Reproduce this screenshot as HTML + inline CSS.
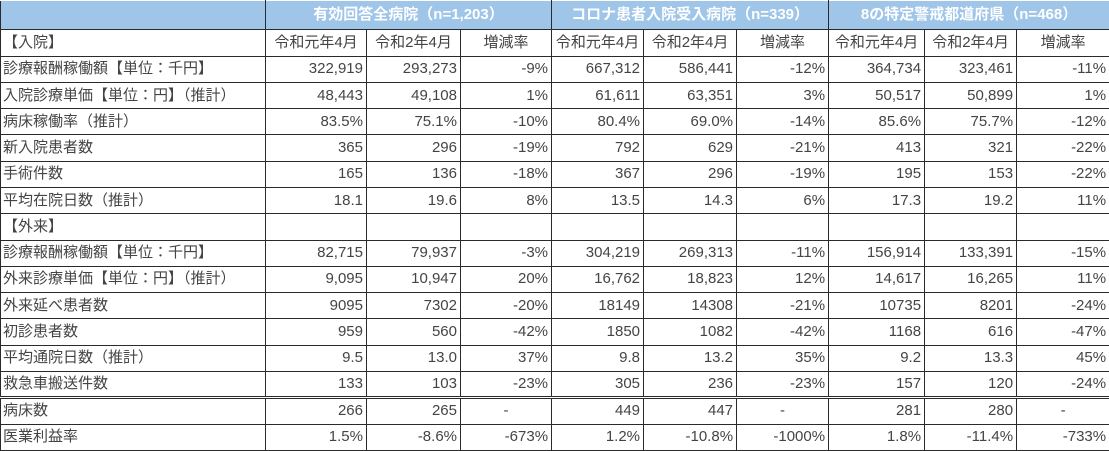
<!DOCTYPE html>
<html><head><meta charset="utf-8"><style>
body{margin:0;background:#fff;width:1109px;height:451px;overflow:hidden}
table{position:absolute;left:0;top:0;border-collapse:collapse;table-layout:fixed;width:1109px;height:451px;font-family:"Liberation Sans","Noto Sans CJK JP",sans-serif;font-size:15px;color:#444}
tr{height:26px}
tr.h{height:29px}
td{border:1px solid #2a2a2a;padding:0 3px;white-space:nowrap;overflow:hidden;line-height:18px;text-align:right}
td.l{text-align:left;padding-left:2px}
td.c{text-align:center}
tr.h td{background:#9fc5e8;color:#fff;font-weight:bold;text-align:center;border-color:#fff #2a2a2a #2a2a2a #2a2a2a}
tr.d td{border-top:3px double #2a2a2a}
</style></head><body>
<table>
<colgroup><col style="width:265px"><col style="width:101px"><col style="width:94px"><col style="width:91px"><col style="width:92px"><col style="width:93px"><col style="width:92px"><col style="width:96px"><col style="width:92px"><col style="width:93px"></colgroup>
<tr class="h"><td></td><td colspan="3">有効回答全病院（n=1,203）</td><td colspan="3">コロナ患者入院受入病院（n=339）</td><td colspan="3">8の特定警戒都道府県（n=468）</td></tr>
<tr><td class="l">【入院】</td><td class="c">令和元年4月</td><td class="c">令和2年4月</td><td class="c">増減率</td><td class="c">令和元年4月</td><td class="c">令和2年4月</td><td class="c">増減率</td><td class="c">令和元年4月</td><td class="c">令和2年4月</td><td class="c">増減率</td></tr>
<tr><td class="l">診療報酬稼働額【単位：千円】</td><td>322,919</td><td>293,273</td><td>-9%</td><td>667,312</td><td>586,441</td><td>-12%</td><td>364,734</td><td>323,461</td><td>-11%</td></tr>
<tr><td class="l">入院診療単価【単位：円】（推計）</td><td>48,443</td><td>49,108</td><td>1%</td><td>61,611</td><td>63,351</td><td>3%</td><td>50,517</td><td>50,899</td><td>1%</td></tr>
<tr><td class="l">病床稼働率（推計）</td><td>83.5%</td><td>75.1%</td><td>-10%</td><td>80.4%</td><td>69.0%</td><td>-14%</td><td>85.6%</td><td>75.7%</td><td>-12%</td></tr>
<tr><td class="l">新入院患者数</td><td>365</td><td>296</td><td>-19%</td><td>792</td><td>629</td><td>-21%</td><td>413</td><td>321</td><td>-22%</td></tr>
<tr><td class="l">手術件数</td><td>165</td><td>136</td><td>-18%</td><td>367</td><td>296</td><td>-19%</td><td>195</td><td>153</td><td>-22%</td></tr>
<tr><td class="l">平均在院日数（推計）</td><td>18.1</td><td>19.6</td><td>8%</td><td>13.5</td><td>14.3</td><td>6%</td><td>17.3</td><td>19.2</td><td>11%</td></tr>
<tr><td class="l">【外来】</td><td></td><td></td><td></td><td></td><td></td><td></td><td></td><td></td><td></td></tr>
<tr><td class="l">診療報酬稼働額【単位：千円】</td><td>82,715</td><td>79,937</td><td>-3%</td><td>304,219</td><td>269,313</td><td>-11%</td><td>156,914</td><td>133,391</td><td>-15%</td></tr>
<tr><td class="l">外来診療単価【単位：円】（推計）</td><td>9,095</td><td>10,947</td><td>20%</td><td>16,762</td><td>18,823</td><td>12%</td><td>14,617</td><td>16,265</td><td>11%</td></tr>
<tr><td class="l">外来延べ患者数</td><td>9095</td><td>7302</td><td>-20%</td><td>18149</td><td>14308</td><td>-21%</td><td>10735</td><td>8201</td><td>-24%</td></tr>
<tr><td class="l">初診患者数</td><td>959</td><td>560</td><td>-42%</td><td>1850</td><td>1082</td><td>-42%</td><td>1168</td><td>616</td><td>-47%</td></tr>
<tr><td class="l">平均通院日数（推計）</td><td>9.5</td><td>13.0</td><td>37%</td><td>9.8</td><td>13.2</td><td>35%</td><td>9.2</td><td>13.3</td><td>45%</td></tr>
<tr><td class="l">救急車搬送件数</td><td>133</td><td>103</td><td>-23%</td><td>305</td><td>236</td><td>-23%</td><td>157</td><td>120</td><td>-24%</td></tr>
<tr class="d"><td class="l">病床数</td><td>266</td><td>265</td><td class="c">-</td><td>449</td><td>447</td><td class="c">-</td><td>281</td><td>280</td><td class="c">-</td></tr>
<tr><td class="l">医業利益率</td><td>1.5%</td><td>-8.6%</td><td>-673%</td><td>1.2%</td><td>-10.8%</td><td>-1000%</td><td>1.8%</td><td>-11.4%</td><td>-733%</td></tr>
</table>
</body></html>
